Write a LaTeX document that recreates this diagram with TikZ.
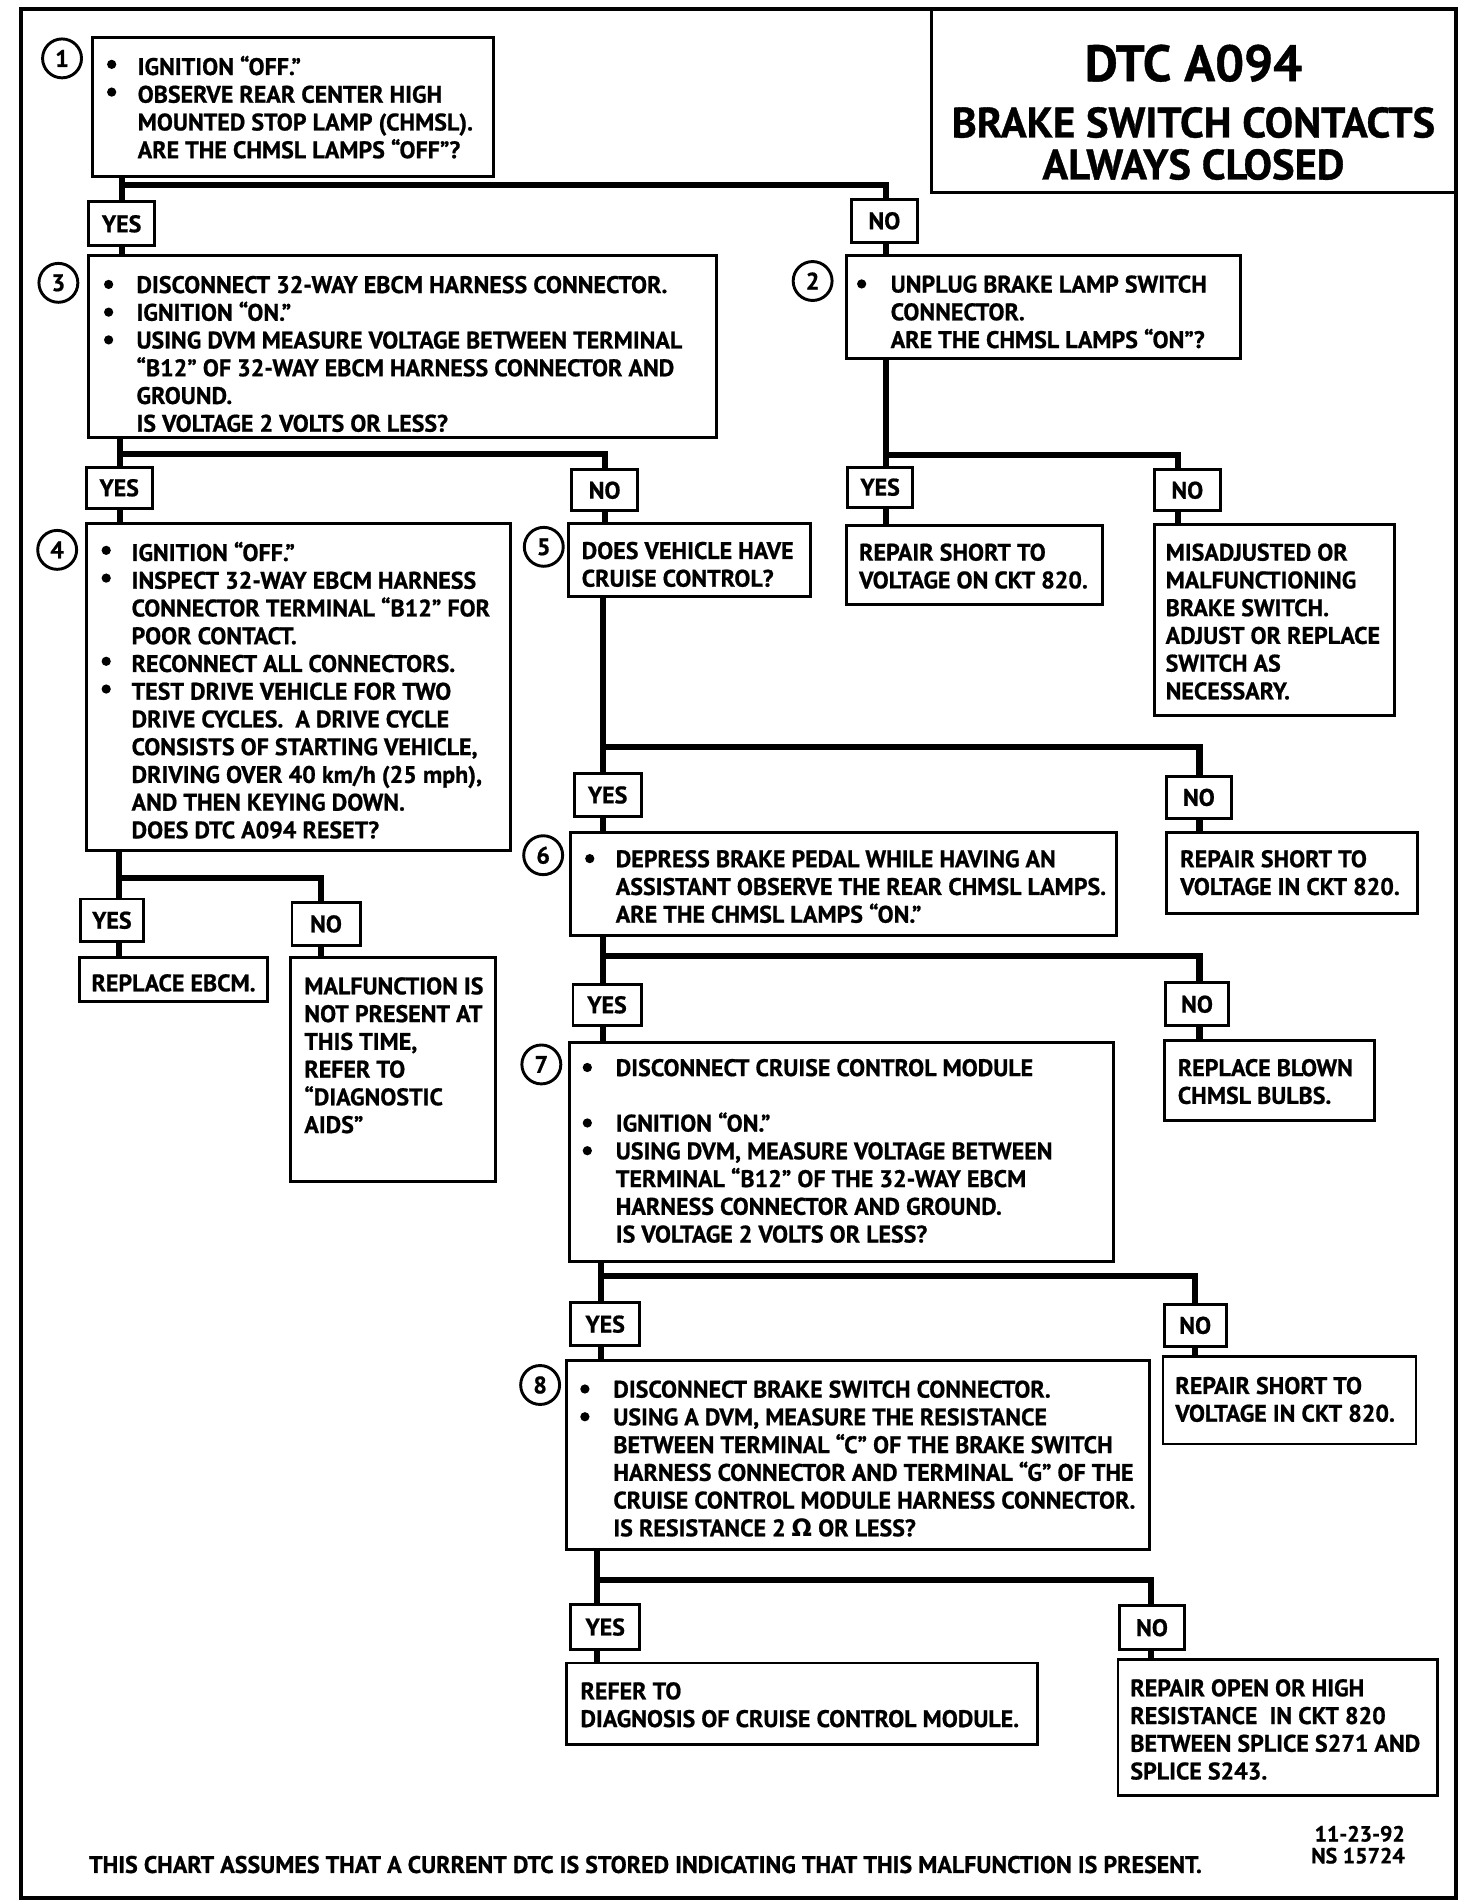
\documentclass[tikz,border=0pt]{standalone}
\usepackage{fontspec}
\setmainfont{PT Sans}[BoldFeatures={FakeBold=0.8}]
\newfontfamily\dvs{DejaVu Sans}
\usetikzlibrary{fit}
\newcommand\bodyf{\bfseries\fontsize{19.7}{22.8}\selectfont}
\newcommand\bl[1]{\hspace*{#1}}
\newcommand\bult[2]{\fill ([shift={(3.8,{7.2+#2*22.8})}]#1.north west) circle (3.8pt);}
\tikzset{
  box/.style={draw, line width=2.4pt, inner sep=0pt, outer sep=0pt},
  lab/.style={draw, line width=2.4pt, inner sep=0pt, outer sep=0pt},
  txt/.style={anchor=north west, inner sep=0pt, align=left, font=\bodyf},
  conn/.style={line width=5pt},
  circ/.style={circle, draw, line width=2.4pt, minimum size=32pt, inner sep=0pt, font=\bodyf},
}
\newcommand\lbl[4]{\node[lab, fit={#2 #3}] (#1) {};
  \node[inner sep=0pt, font=\bodyf] (#1t) at (#1.center) {#4};}
\begin{document}
\begin{tikzpicture}[x=1pt,y=-1pt]
\useasboundingbox (0,0) rectangle (1210,1563.5);
% frame and title
\node[box, line width=3.5pt, fit={(17,7.5) (1197,1560)}] (frame) {};
\node[box, fit={(766,7.5) (1197,158)}] (title) {};
\node[anchor=base, inner sep=0pt, font=\bfseries\fontsize{42}{42}\selectfont] (t1) at (981,66.7) {DTC A094};
\node[anchor=base, inner sep=0pt, font=\bfseries\fontsize{35}{35}\selectfont] (t2) at (981,113) {BRAKE SWITCH CONTACTS};
\node[anchor=base, inner sep=0pt, font=\bfseries\fontsize{35}{35}\selectfont] (t3) at (981,147.5) {ALWAYS CLOSED};
% boxes
\node[box, fit={(76,31) (406,145)}] (b1) {};
\node[box, fit={(73,210) (589,360)}] (b3) {};
\node[box, fit={(696,210) (1020,295)}] (b2) {};
\node[box, fit={(71,430) (420,699)}] (b4) {};
\node[box, fit={(467,430) (666,490)}] (b5) {};
\node[box, fit={(696,432) (906,497)}] (r1) {};
\node[box, fit={(949,431) (1146,588)}] (ms) {};
\node[box, fit={(959,684) (1165,751)}] (r2) {};
\node[box, fit={(469,684) (918,769)}] (b6) {};
\node[box, fit={(65,787) (220,823)}] (eb) {};
\node[box, fit={(239,787) (407,971)}] (mf) {};
\node[box, fit={(468,857) (915,1037)}] (b7) {};
\node[box, fit={(957,855) (1130,921)}] (rb) {};
\node[box, fit={(466,1118) (945,1274)}] (b8) {};
\node[box, fit={(956,1115) (1164,1187)}] (r3) {};
\node[box, fit={(466,1367) (853,1434)}] (rf) {};
\node[box, fit={(919,1364) (1182,1476)}] (ro) {};
% circles
\node[circ] (c1) at (51,48) {1};
\node[circ] (c3) at (48,232.5) {3};
\node[circ] (c2) at (668,231) {2};
\node[circ] (c4) at (47,452) {4};
\node[circ] (c5) at (447,449.5) {5};
\node[circ] (c6) at (446.5,703) {6};
\node[circ] (c7) at (445,875) {7};
\node[circ] (c8) at (444,1138.5) {8};
% texts
\node[txt] (x1) at (88,45.7) {\bl{25pt}IGNITION “OFF.”\\ \bl{25pt}OBSERVE REAR CENTER HIGH\\ \hspace*{25pt}MOUNTED STOP LAMP (CHMSL).\\ \hspace*{25pt}ARE THE CHMSL LAMPS “OFF”?};
\node[txt] (x3) at (85.5,226.6) {\bl{26.5pt}DISCONNECT 32-WAY EBCM HARNESS CONNECTOR.\\ \bl{26.5pt}IGNITION “ON.”\\ \bl{26.5pt}USING DVM MEASURE VOLTAGE BETWEEN TERMINAL\\ \hspace*{26.5pt}“B12” OF 32-WAY EBCM HARNESS CONNECTOR AND\\ \hspace*{26.5pt}GROUND.\\ \hspace*{26.5pt}IS VOLTAGE 2 VOLTS OR LESS?};
\node[txt] (x2) at (704.5,226.2) {\bl{27.5pt}UNPLUG BRAKE LAMP SWITCH\\ \hspace*{27.5pt}CONNECTOR.\\ \hspace*{27.5pt}ARE THE CHMSL LAMPS “ON”?};
\node[txt] (x4) at (83.5,445.2) {\bl{24.5pt}IGNITION “OFF.”\\ \bl{24.5pt}INSPECT 32-WAY EBCM HARNESS\\ \hspace*{24.5pt}CONNECTOR TERMINAL “B12” FOR\\ \hspace*{24.5pt}POOR CONTACT.\\ \bl{24.5pt}RECONNECT ALL CONNECTORS.\\ \bl{24.5pt}TEST DRIVE VEHICLE FOR TWO\\ \hspace*{24.5pt}DRIVE CYCLES.\ \ A DRIVE CYCLE\\ \hspace*{24.5pt}CONSISTS OF STARTING VEHICLE,\\ \hspace*{24.5pt}DRIVING OVER 40 km/h (25 mph),\\ \hspace*{24.5pt}AND THEN KEYING DOWN.\\ \hspace*{24.5pt}DOES DTC A094 RESET?};
\node[txt] (x5) at (478,445.2) {DOES VEHICLE HAVE\\ CRUISE CONTROL?};
\node[txt] (xr1) at (706,446.6) {REPAIR SHORT TO\\ VOLTAGE ON CKT 820.};
\node[txt] (xms) at (958,446.6) {MISADJUSTED OR\\ MALFUNCTIONING\\ BRAKE SWITCH.\\ ADJUST OR REPLACE\\ SWITCH AS\\ NECESSARY.};
\node[txt] (xr2) at (970,698.6) {REPAIR SHORT TO\\ VOLTAGE IN CKT 820.};
\node[txt] (x6) at (481,698.6) {\bl{25pt}DEPRESS BRAKE PEDAL WHILE HAVING AN\\ \hspace*{25pt}ASSISTANT OBSERVE THE REAR CHMSL LAMPS.\\ \hspace*{25pt}ARE THE CHMSL LAMPS “ON.”};
\node[txt] (xeb) at (75,800.6) {REPLACE EBCM.};
\node[txt] (xmf) at (250,803.1) {MALFUNCTION IS\\ NOT PRESENT AT\\ THIS TIME,\\ REFER TO\\ “DIAGNOSTIC\\ AIDS”};
\node[txt] (x7) at (479,870.3) {\bl{27pt}DISCONNECT CRUISE CONTROL MODULE\\[22.8pt] \bl{27pt}IGNITION “ON.”\\ \bl{27pt}USING DVM, MEASURE VOLTAGE BETWEEN\\ \hspace*{27pt}TERMINAL “B12” OF THE 32-WAY EBCM\\ \hspace*{27pt}HARNESS CONNECTOR AND GROUND.\\ \hspace*{27pt}IS VOLTAGE 2 VOLTS OR LESS?};
\node[txt] (xrb) at (968,870.3) {REPLACE BLOWN\\ CHMSL BULBS.};
\node[txt] (x8) at (477,1134.6) {\bl{27pt}DISCONNECT BRAKE SWITCH CONNECTOR.\\ \bl{27pt}USING A DVM, MEASURE THE RESISTANCE\\ \hspace*{27pt}BETWEEN TERMINAL “C” OF THE BRAKE SWITCH\\ \hspace*{27pt}HARNESS CONNECTOR AND TERMINAL “G” OF THE\\ \hspace*{27pt}CRUISE CONTROL MODULE HARNESS CONNECTOR.\\ \hspace*{27pt}IS RESISTANCE 2 {\dvs\bfseries Ω} OR LESS?};
\node[txt] (xr3) at (966,1131.6) {REPAIR SHORT TO\\ VOLTAGE IN CKT 820.};
\node[txt] (xrf) at (477,1382.6) {REFER TO\\ DIAGNOSIS OF CRUISE CONTROL MODULE.};
\node[txt] (xro) at (929,1380.1) {REPAIR OPEN OR HIGH\\ RESISTANCE\ \ IN CKT 820\\ BETWEEN SPLICE S271 AND\\ SPLICE S243.};
\node[anchor=base west, inner sep=0pt, font=\bodyf] (foot) at (73,1539.6) {THIS CHART ASSUMES THAT A CURRENT DTC IS STORED INDICATING THAT THIS MALFUNCTION IS PRESENT.};
\node[anchor=north east, inner sep=0pt, align=right, font=\bfseries\fontsize{18}{18}\selectfont] (date) at (1155,1500.7) {11-23-92\\ NS 15724};
% bullets
\bult{x1}{0} \bult{x1}{1}
\bult{x3}{0} \bult{x3}{1} \bult{x3}{2}
\bult{x2}{0}
\bult{x4}{0} \bult{x4}{1} \bult{x4}{4} \bult{x4}{5}
\bult{x6}{0}
\bult{x7}{0} \bult{x7}{2} \bult{x7}{3}
\bult{x8}{0} \bult{x8}{1}
% labels
\lbl{yA}{(73,166)}{(127,202)}{YES}
\lbl{nA}{(700,164)}{(754,199)}{NO}
\lbl{yB}{(71,384)}{(125,418)}{YES}
\lbl{nB}{(470,386)}{(524,420)}{NO}
\lbl{yC}{(697,384)}{(750,417)}{YES}
\lbl{nC}{(949,386)}{(1003,420)}{NO}
\lbl{yD}{(472,636)}{(527,671)}{YES}
\lbl{nD}{(959,638)}{(1012,673)}{NO}
\lbl{yE}{(471,809)}{(527,843)}{YES}
\lbl{nE}{(958,808)}{(1010,843)}{NO}
\lbl{yF}{(469,1071)}{(526,1106)}{YES}
\lbl{nF}{(957,1072)}{(1008,1107)}{NO}
\lbl{yG}{(469,1319)}{(526,1356)}{YES}
\lbl{nG}{(920,1320)}{(974,1356)}{NO}
\lbl{yH}{(66,739)}{(118,774)}{YES}
\lbl{nH}{(240,742)}{(296,777)}{NO}
% branch coordinates
\coordinate (jA) at (100,152);  \coordinate (kA) at (728,152);
\coordinate (jB) at (99,373);   \coordinate (kB) at (497,373);
\coordinate (jC) at (728,374);  \coordinate (kC) at (968,374);
\coordinate (jD) at (496,614);  \coordinate (kD) at (986,614);
\coordinate (jE) at (496,786);  \coordinate (kE) at (986,786);
\coordinate (jF) at (494,1049); \coordinate (kF) at (982,1049);
\coordinate (jG) at (491,1299); \coordinate (kG) at (946,1299);
\coordinate (jH) at (98,722);   \coordinate (kH) at (264,722);
% connectors
\draw[conn] (b1.south -| jA) -- (jA |- yA.north);
\draw[conn] (jA) -- (kA) -- (kA |- nA.north);
\draw[conn] (jA |- yA.south) -- (jA |- b3.north);
\draw[conn] (kA |- nA.south) -- (kA |- b2.north);
\draw[conn] (b3.south -| jB) -- (jB |- yB.north);
\draw[conn] (jB) -- (kB) -- (kB |- nB.north);
\draw[conn] (jB |- yB.south) -- (jB |- b4.north);
\draw[conn] (kB |- nB.south) -- (kB |- b5.north);
\draw[conn] (b2.south -| jC) -- (jC |- yC.north);
\draw[conn] (jC) -- (kC) -- (kC |- nC.north);
\draw[conn] (jC |- yC.south) -- (jC |- r1.north);
\draw[conn] (kC |- nC.south) -- (kC |- ms.north);
\draw[conn] (b5.south -| jD) -- (jD |- yD.north);
\draw[conn] (jD) -- (kD) -- (kD |- nD.north);
\draw[conn] (jD |- yD.south) -- (jD |- b6.north);
\draw[conn] (kD |- nD.south) -- (kD |- r2.north);
\draw[conn] (b6.south -| jE) -- (jE |- yE.north);
\draw[conn] (jE) -- (kE) -- (kE |- nE.north);
\draw[conn] (jE |- yE.south) -- (jE |- b7.north);
\draw[conn] (kE |- nE.south) -- (kE |- rb.north);
\draw[conn] (b7.south -| jF) -- (jF |- yF.north);
\draw[conn] (jF) -- (kF) -- (kF |- nF.north);
\draw[conn] (jF |- yF.south) -- (jF |- b8.north);
\draw[conn] (kF |- nF.south) -- (kF |- r3.north);
\draw[conn] (b8.south -| jG) -- (jG |- yG.north);
\draw[conn] (jG) -- (kG) -- (kG |- nG.north);
\draw[conn] (jG |- yG.south) -- (jG |- rf.north);
\draw[conn] (kG |- nG.south) -- (kG |- ro.north);
\draw[conn] (b4.south -| jH) -- (jH |- yH.north);
\draw[conn] (jH) -- (kH) -- (kH |- nH.north);
\draw[conn] (jH |- yH.south) -- (jH |- eb.north);
\draw[conn] (kH |- nH.south) -- (kH |- mf.north);
\end{tikzpicture}
\end{document}
